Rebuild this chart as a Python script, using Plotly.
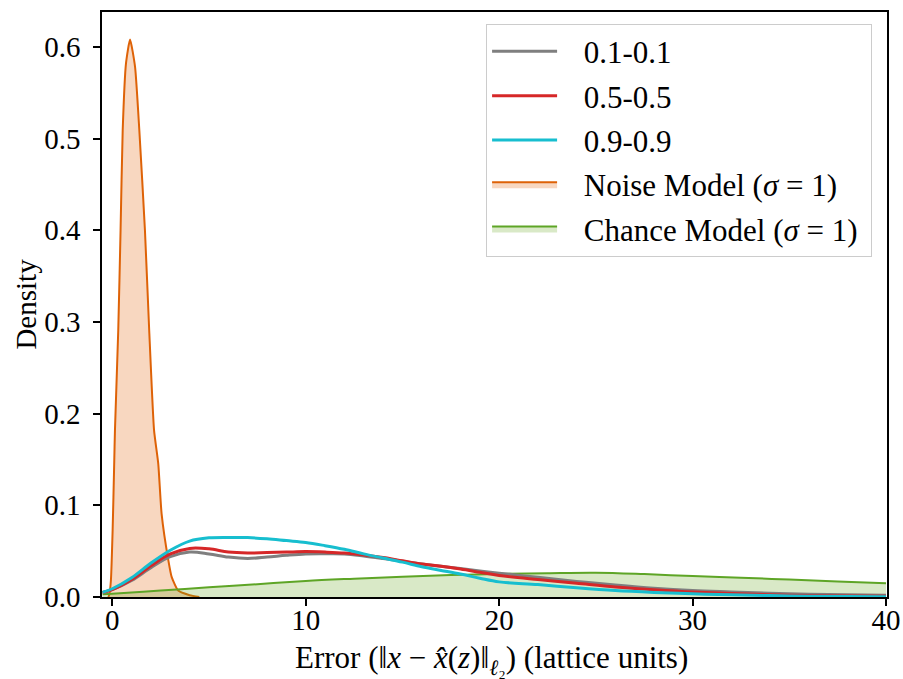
import plotly.graph_objects as go

# ---- data ----
x_grid = [-0.5, 0, 1, 2, 3, 4, 5, 6, 7, 8, 9, 10, 11, 12, 13, 14, 15, 16, 17, 18, 19, 20,
          22, 24, 26, 28, 30, 32, 35, 38, 40]
gray_01 = [0.005, 0.008, 0.018, 0.032, 0.044, 0.049, 0.047, 0.0435, 0.042, 0.0435, 0.0455, 0.047, 0.0472, 0.047, 0.0448, 0.042, 0.039, 0.036, 0.0335, 0.031, 0.0285, 0.026,
           0.0215, 0.017, 0.013, 0.0095, 0.007, 0.0055, 0.0035, 0.0025, 0.002]
red_05 = [0.005, 0.008, 0.019, 0.034, 0.047, 0.053, 0.0525, 0.049, 0.048, 0.0485, 0.049, 0.0495, 0.049, 0.048, 0.0458, 0.043, 0.0395, 0.036, 0.0335, 0.0305, 0.027, 0.0235,
          0.019, 0.015, 0.011, 0.008, 0.0055, 0.0038, 0.002, 0.0012, 0.0008]
cyan_09 = [0.005, 0.009, 0.021, 0.037, 0.051, 0.061, 0.0645, 0.065, 0.0648, 0.0635, 0.0615, 0.0595, 0.056, 0.052, 0.047, 0.0425, 0.038, 0.033, 0.029, 0.025, 0.0205, 0.0165,
           0.0135, 0.010, 0.007, 0.005, 0.0035, 0.0025, 0.0012, 0.0006, 0.0003]

noise_x = [-0.2, -0.15, -0.07, 0.02, 0.10, 0.14, 0.31, 0.43, 0.54, 0.71, 0.92, 1.18, 1.40, 1.69,
           1.91, 2.16, 2.38, 2.55, 2.90, 3.07, 3.41, 4.0, 4.5]
noise_y = [0.0, 0.003, 0.018, 0.073, 0.145, 0.182, 0.291, 0.40, 0.509, 0.582, 0.608, 0.578, 0.509, 0.40,
           0.291, 0.182, 0.145, 0.091, 0.040, 0.022, 0.007, 0.002, 0.0]

chance_x = [-0.5, 0, 2.5, 5, 7.5, 10, 12.5, 15, 17.5, 20, 22.5, 25, 27.5, 30, 32.5, 35, 37.5, 40]
chance_y = [0.003, 0.0035, 0.007, 0.0105, 0.014, 0.0175, 0.020, 0.0222, 0.024, 0.0252, 0.026, 0.0265,
            0.025, 0.0228, 0.021, 0.019, 0.017, 0.015]

x_ticks = [0, 10, 20, 30, 40]
y_ticks = [0.0, 0.1, 0.2, 0.3, 0.4, 0.5, 0.6]
y_tick_labels = ["0.0", "0.1", "0.2", "0.3", "0.4", "0.5", "0.6"]

FONT = "Liberation Serif"
FS = 29
LFS = 31
GAP = "\u00a0\u00a0\u2009"
TAIL = "\u00a0"

fig = go.Figure()

fig.add_trace(go.Scatter(
    x=noise_x, y=noise_y, mode="lines", fill="tozeroy",
    line=dict(color="#de6207", width=2, shape="spline", smoothing=0.5),
    fillcolor="rgba(230,110,30,0.28)",
    name=GAP + "Noise Model (<i>σ</i> = 1)" + TAIL, legendgroup="n", legendrank=4))
fig.add_trace(go.Scatter(
    x=chance_x, y=chance_y, mode="lines", fill="tozeroy",
    line=dict(color="#5ea526", width=2, shape="spline"),
    fillcolor="rgba(102,166,30,0.25)",
    name=GAP + "Chance Model (<i>σ</i> = 1)" + TAIL, legendgroup="c", legendrank=5))

for vals, col, nm, rk in [(gray_01, "#7f7f7f", "0.1-0.1", 1),
                          (red_05, "#d62728", "0.5-0.5", 2),
                          (cyan_09, "#17becf", "0.9-0.9", 3)]:
    fig.add_trace(go.Scatter(
        x=x_grid, y=vals, mode="lines",
        line=dict(color=col, width=3, shape="spline"),
        name=GAP + nm, legendgroup=nm, legendrank=rk))

axis_common = dict(
    showline=True, linecolor="black", linewidth=1.5, mirror=True,
    ticks="outside", ticklen=7, tickwidth=1.5, tickcolor="black",
    showgrid=False, zeroline=False, automargin=False,
    tickfont=dict(family=FONT, size=FS, color="black"),
)

fig.update_xaxes(range=[-0.53, 40.05], tickvals=x_ticks, ticklabelstandoff=-11, **axis_common)
fig.update_yaxes(range=[0, 0.638], tickvals=y_ticks, ticktext=y_tick_labels,
                 ticklabelstandoff=7, **axis_common)

fig.update_layout(
    width=903, height=679,
    margin=dict(l=102, r=16, t=12, b=82, autoexpand=False),
    plot_bgcolor="white", paper_bgcolor="white",
    font=dict(family=FONT, size=FS, color="black"),
    legend=dict(x=0.981, y=0.98, xanchor="right", yanchor="top",
                bgcolor="rgba(255,255,255,0.9)", bordercolor="#cccccc", borderwidth=1,
                font=dict(family=FONT, size=LFS, color="black"),
                traceorder="grouped", tracegroupgap=1, itemwidth=65),
    annotations=[
        dict(text="Error (‖<i>x</i> − <i>x̂</i>(<i>z</i>)‖<sub><i>ℓ</i>₂</sub>) (lattice units)",
             xref="paper", yref="paper", x=0.496, y=-0.108, xanchor="center", yanchor="middle",
             showarrow=False, font=dict(family=FONT, size=31, color="black")),
        dict(text="Density", xref="paper", yref="paper", x=-0.098, y=0.5, textangle=-90,
             xanchor="center", yanchor="middle", showarrow=False,
             font=dict(family=FONT, size=FS, color="black")),
    ],
)

fig.write_html("out.html", config={"displayModeBar": False},
               post_script="document.body.style.margin='0';document.body.style.overflow='hidden';")
